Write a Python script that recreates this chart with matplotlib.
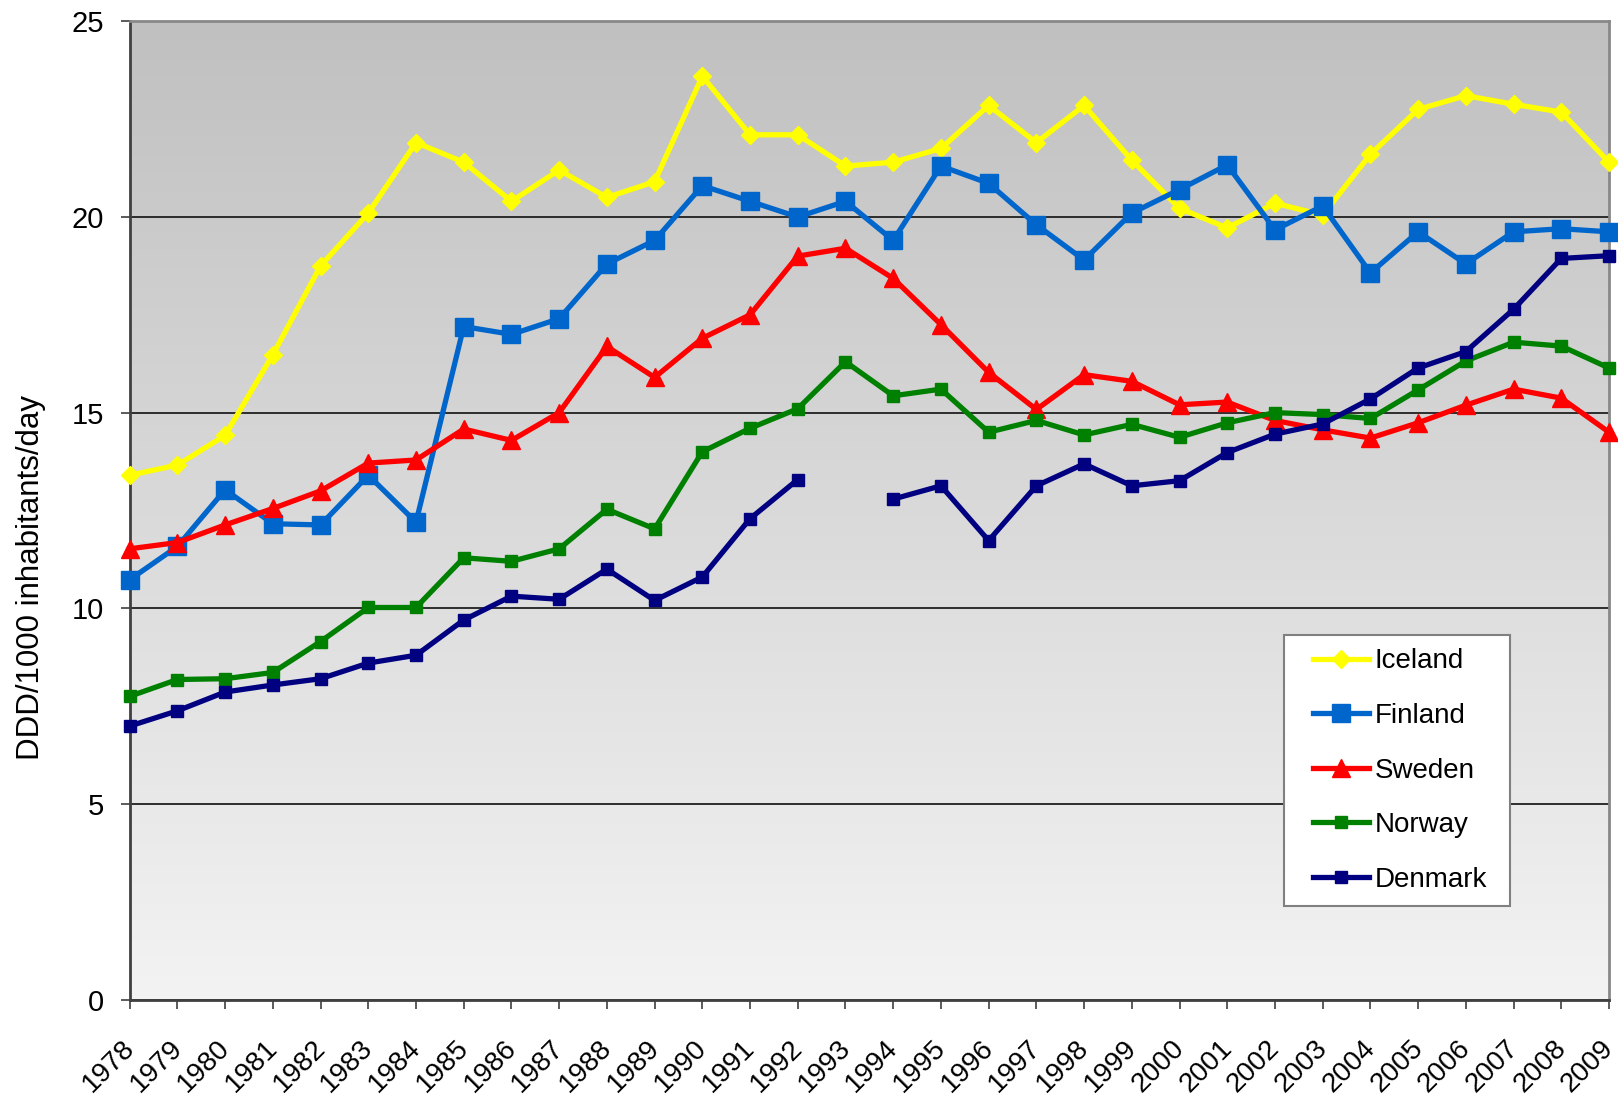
import numpy as np
import matplotlib
matplotlib.use('Agg')
import matplotlib.pyplot as plt
import matplotlib.transforms as mtransforms
from matplotlib.patches import Rectangle
from matplotlib.colors import LinearSegmentedColormap

plt.rcParams['font.family'] = ['Liberation Sans', 'DejaVu Sans']

#############################################################
# Data (DDD/1000 inhabitants/day)

years = list(range(1978, 2010))

iceland = [13.4, 13.66, 14.42, 16.48, 18.75, 20.1, 21.9, 21.4, 20.4, 21.2,
           20.5, 20.9, 23.6, 22.1, 22.1, 21.3, 21.4, 21.75, 22.85, 21.9,
           22.85, 21.45, 20.22, 19.72, 20.35, 20.05, 21.6, 22.75, 23.1, 22.88,
           22.68, 21.4]

finland = [10.73, 11.58, 13.03, 12.16, 12.13, 13.4, 12.2, 17.2, 17.0, 17.4,
           18.8, 19.4, 20.8, 20.4, 20.0, 20.4, 19.4, 21.3, 20.86, 19.8,
           18.9, 20.1, 20.7, 21.33, 19.67, 20.28, 18.57, 19.62, 18.8, 19.62,
           19.7, 19.62]

sweden = [11.52, 11.68, 12.13, 12.55, 13.0, 13.71, 13.79, 14.58, 14.29, 15.0,
          16.69, 15.9, 16.9, 17.5, 19.0, 19.2, 18.43, 17.25, 16.03, 15.08,
          15.97, 15.8, 15.2, 15.27, 14.8, 14.56, 14.35, 14.74, 15.19, 15.6,
          15.37, 14.5]

norway = [7.75, 8.18, 8.2, 8.36, 9.15, 10.02, 10.02, 11.29, 11.2, 11.52,
          12.53, 12.03, 14.0, 14.6, 15.1, 16.3, 15.43, 15.6, 14.5, 14.8,
          14.43, 14.7, 14.37, 14.74, 15.0, 14.95, 14.85, 15.58, 16.32, 16.8,
          16.7, 16.14]

denmark = [6.99, 7.38, 7.86, 8.04, 8.2, 8.6, 8.8, 9.7, 10.31, 10.23,
           11.0, 10.2, 10.8, 12.29, 13.29, np.nan, 12.79, 13.13, 11.73, 13.13,
           13.69, 13.13, 13.26, 13.98, 14.45, 14.71, 15.35, 16.14, 16.56, 17.64,
           18.94, 19.01]

series = [
    ('Iceland', iceland, '#FFFF00', 'D', 9.5),
    ('Finland', finland, '#0066CC', 's', 12.5),
    ('Sweden', sweden, '#FF0000', '^', 12.5),
    ('Norway', norway, '#008000', 's', 9),
    ('Denmark', denmark, '#000080', 's', 9),
]

#############################################################

W, H = 1618, 1098
fig = plt.figure(figsize=(W / 100, H / 100), dpi=100)
ax = fig.add_axes([129.7 / W, 1 - 999.6 / H, (1609 - 129.7) / W, (999.6 - 21.3) / H])

# gradient background of the plot area
grad = np.linspace(0, 1, 256).reshape(-1, 1)
cmap = LinearSegmentedColormap.from_list('bg', ['#F3F3F3', '#C0C0C0'])
ax.imshow(grad, extent=[0, 1, 0, 1], transform=ax.transAxes, aspect='auto',
          cmap=cmap, origin='lower', zorder=-5)

for name, vals, col, mk, ms in series:
    ax.plot(years, vals, color=col, lw=3.8, marker=mk, markersize=ms,
            markerfacecolor=col, markeredgecolor=col, label=name,
            clip_on=False, zorder=3)

ax.set_xlim(1978, 2009)
ax.set_ylim(0, 25)
ax.set_yticks([0, 5, 10, 15, 20, 25])
ax.set_xticks(years)
ax.set_xticklabels([str(y) for y in years], rotation=45, ha='right', va='top')

ax.yaxis.grid(True, color='#202020', linewidth=1.3)
ax.set_axisbelow(True)

ax.tick_params(axis='both', direction='out', length=6.5, width=1.2, color='#404040')
ax.tick_params(axis='x', pad=19, labelsize=20)
ax.tick_params(axis='y', pad=12, labelsize=21)

# nudge the year labels a little to the right
shift = mtransforms.ScaledTranslation(10 / 100, 0, fig.dpi_scale_trans)
for lbl in ax.get_xticklabels():
    lbl.set_transform(lbl.get_transform() + shift)

for s in ['left', 'bottom']:
    ax.spines[s].set_color('#404040')
    ax.spines[s].set_linewidth(2)
for s in ['top', 'right']:
    ax.spines[s].set_color('#888888')
    ax.spines[s].set_linewidth(2)

ax.set_ylabel('DDD/1000 inhabitants/day', fontsize=22.5)
ax.yaxis.set_label_coords(-0.0565, 0.431)

# legend with its own box
box = Rectangle((1284 / W, 1 - 906 / H), 226 / W, 271 / H, transform=fig.transFigure,
                facecolor='white', edgecolor='#808080', lw=1.5, zorder=4)
fig.add_artist(box)
handles, labels = ax.get_legend_handles_labels()
fig.legend(handles, labels, loc='center', bbox_to_anchor=(1400 / W, 1 - 770.5 / H),
           frameon=False, fontsize=20, labelspacing=1.03, handlelength=2.0,
           handletextpad=0.2, borderpad=0.3)

fig.savefig('out.png', dpi=100)
